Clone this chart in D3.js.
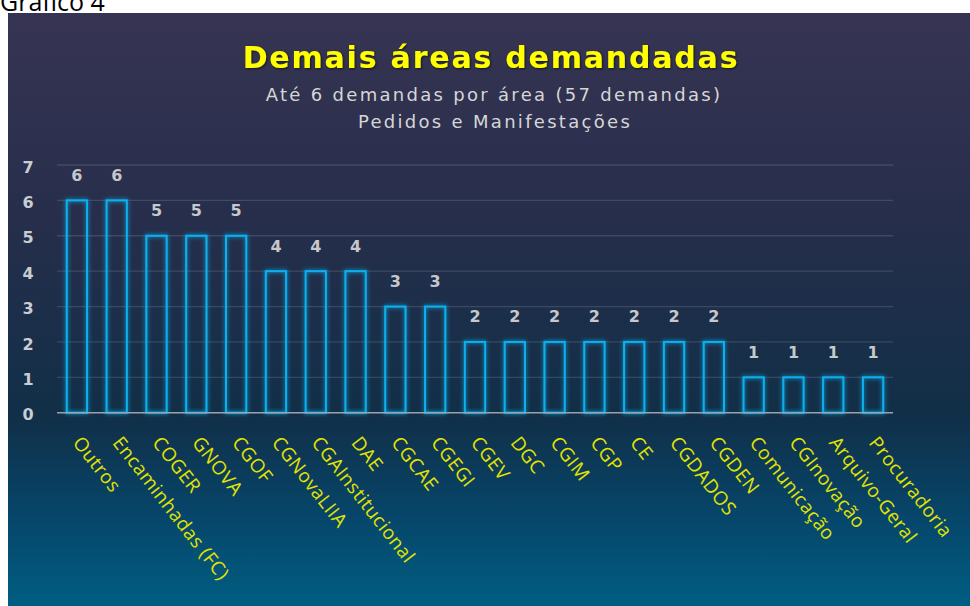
<!DOCTYPE html>
<html>
<head>
<meta charset="utf-8">
<script src="https://cdn.jsdelivr.net/npm/d3@7"></script>
<style>
  html, body { margin: 0; padding: 0; background: #ffffff; }
  svg { display: block; }
</style>
</head>
<body>
<svg id="chart" width="970" height="606"></svg>
<script>
const categories = ["Outros", "Encaminhadas (FC)", "COGER", "GNOVA", "CGOF", "CGNovaLIIA",
  "CGAInstitucional", "DAE", "CGCAE", "CGEGI", "CGEV", "DGC", "CGIM", "CGP", "CE",
  "CGDADOS", "CGDEN", "Comunicação", "CGInovação", "Arquivo-Geral", "Procuradoria"];
const values = [6, 6, 5, 5, 5, 4, 4, 4, 3, 3, 2, 2, 2, 2, 2, 2, 2, 1, 1, 1, 1];
const yTicks = [0, 1, 2, 3, 4, 5, 6, 7];
const pageLabel = "Gráfico 4";
const title = "Demais áreas demandadas";
const subtitle1 = "Até 6 demandas por área (57 demandas)";
const subtitle2 = "Pedidos e Manifestações";

const svg = d3.select("#chart");
const defs = svg.append("defs");

const grad = defs.append("linearGradient").attr("id", "bg")
  .attr("x1", 0).attr("y1", 0).attr("x2", 0).attr("y2", 1);
[["0%", "#373453"], ["35%", "#262e4b"], ["68%", "#112f48"], ["85%", "#06466a"], ["100%", "#005e82"]]
  .forEach(([o, c]) => grad.append("stop").attr("offset", o).attr("stop-color", c));

const glow = defs.append("filter").attr("id", "glow")
  .attr("x", "-50%").attr("y", "-20%").attr("width", "200%").attr("height", "140%");
glow.append("feGaussianBlur").attr("in", "SourceGraphic").attr("stdDeviation", 2.2).attr("result", "b");
const merge = glow.append("feMerge");
merge.append("feMergeNode").attr("in", "b");
merge.append("feMergeNode").attr("in", "SourceGraphic");

const tshadow = defs.append("filter").attr("id", "tshadow");
tshadow.append("feDropShadow").attr("dx", 1).attr("dy", 1).attr("stdDeviation", 0.8)
  .attr("flood-color", "#000").attr("flood-opacity", 0.6);

// page label (partly above the top edge, as in the reference)
svg.append("text").attr("x", 0).attr("y", 11)
  .attr("font-family", "Open Sans, sans-serif").attr("font-size", 25)
  .attr("fill", "#000").text(pageLabel);

// panel
const panel = { x: 8, y: 13, w: 962, h: 593 };
svg.append("rect").attr("x", panel.x).attr("y", panel.y)
  .attr("width", panel.w).attr("height", panel.h).attr("fill", "url(#bg)");

// titles
svg.append("text").attr("x", 491).attr("y", 68).attr("text-anchor", "middle")
  .attr("font-family", "DejaVu Sans, sans-serif").attr("font-weight", "bold")
  .attr("font-size", 30).attr("letter-spacing", 1.8)
  .attr("fill", "#ffff00").attr("filter", "url(#tshadow)").text(title);
svg.append("text").attr("x", 494).attr("y", 101).attr("text-anchor", "middle")
  .attr("font-family", "DejaVu Sans, sans-serif").attr("font-size", 18)
  .attr("letter-spacing", 2.3)
  .attr("fill", "#d6d6d6").text(subtitle1);
svg.append("text").attr("x", 495).attr("y", 128).attr("text-anchor", "middle")
  .attr("font-family", "DejaVu Sans, sans-serif").attr("font-size", 18)
  .attr("letter-spacing", 2.3)
  .attr("fill", "#d6d6d6").text(subtitle2);

// scales
const x = d3.scaleBand().domain(categories).range([57, 893]).paddingInner(0.49).paddingOuter(0.245);
const y = d3.scaleLinear().domain([0, 7]).range([412.7, 165]);

// gridlines
svg.append("g").selectAll("line").data(yTicks.filter(d => d > 0)).join("line")
  .attr("x1", 57).attr("x2", 893)
  .attr("y1", d => y(d)).attr("y2", d => y(d))
  .attr("stroke", "#ffffff").attr("stroke-opacity", 0.13).attr("stroke-width", 1.3);

// y axis
const yAxis = d3.axisLeft(y).tickValues(yTicks).tickSize(0).tickPadding(0).tickFormat(d3.format("d"));
const yg = svg.append("g").attr("transform", "translate(28,0)").call(yAxis);
yg.select(".domain").remove();
yg.selectAll("text").attr("text-anchor", "middle").attr("dy", "0.45em")
  .attr("font-family", "DejaVu Sans, sans-serif").attr("font-weight", "bold")
  .attr("font-size", 16).attr("fill", "#c9cdd3");

// bars
svg.append("g").selectAll("rect").data(values).join("rect")
  .attr("x", (d, i) => x(categories[i]))
  .attr("y", d => y(d))
  .attr("width", x.bandwidth())
  .attr("height", d => y(0) - y(d))
  .attr("fill", "none")
  .attr("stroke", "#0fb0ee").attr("stroke-width", 2)
  .attr("filter", "url(#glow)");

// baseline
svg.append("line").attr("x1", 57).attr("x2", 893).attr("y1", y(0)).attr("y2", y(0))
  .attr("stroke", "#9aa3ad").attr("stroke-width", 1.5);

// value labels
svg.append("g").selectAll("text").data(values).join("text")
  .attr("x", (d, i) => x(categories[i]) + x.bandwidth() / 2)
  .attr("y", d => y(d) - 19.5)
  .attr("text-anchor", "middle")
  .attr("font-family", "DejaVu Sans, sans-serif").attr("font-weight", 600)
  .attr("font-size", 16).attr("fill", "#c6c8cc")
  .text(d => d);

// category labels
svg.append("g").selectAll("text").data(categories).join("text")
  .attr("transform", d => `translate(${x(d) + x.bandwidth() / 2 - 5},443) rotate(52)`)
  .attr("font-family", "Open Sans, sans-serif").attr("font-size", 19)
  .attr("letter-spacing", 0.5)
  .attr("fill", "#e3e300")
  .text(d => d);
</script>
</body>
</html>
